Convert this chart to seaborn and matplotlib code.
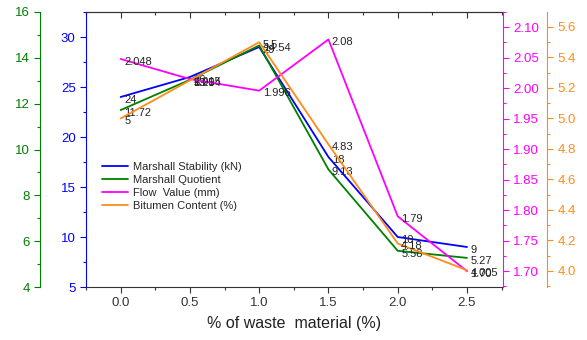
import matplotlib
matplotlib.use("Agg")
import matplotlib.pyplot as plt
import seaborn as sns
from matplotlib.ticker import MultipleLocator, FormatStrFormatter

# ---------- Data ----------
waste = [0.0, 0.5, 1.0, 1.5, 2.0, 2.5]
stability = [24, 26, 29, 18, 10, 9]
quotient = [11.72, 13.04, 14.54, 9.13, 5.58, 5.27]
flow = [2.048, 2.015, 1.996, 2.08, 1.79, 1.70]
bitumen = [5.0, 5.25, 5.5, 4.83, 4.18, 4.005]

stability_labels = ["24", "26", "29", "18", "10", "9"]
quotient_labels = ["11.72", "13.04", "14.54", "9.13", "5.58", "5.27"]
flow_labels = ["2.048", "2.015", "1.996", "2.08", "1.79", "1.70"]
bitumen_labels = ["5", "5.25", "5.5", "4.83", "4.18", "4.005"]

# ---------- Style ----------
sns.set_style("ticks")
plt.rcParams['font.family'] = ['Liberation Sans', 'DejaVu Sans']

c_blue = "#0000FF"
c_green = "#008000"
c_mag = "#FF00FF"
c_orange = "#FF8C1A"
tick_fs = 9.5

fig = plt.figure(figsize=(5.87, 3.4), dpi=100)
ax = fig.add_axes([86 / 587, 53 / 340, 417 / 587, 275 / 340])
ax_g = ax.twinx()
ax_m = ax.twinx()
ax_o = ax.twinx()

series = [
    (ax, stability, stability_labels, c_blue, "Marshall Stability (kN)"),
    (ax_g, quotient, quotient_labels, c_green, "Marshall Quotient"),
    (ax_m, flow, flow_labels, c_mag, "Flow  Value (mm)"),
    (ax_o, bitumen, bitumen_labels, c_orange, "Bitumen Content (%)"),
]

handles = []
for a, vals, labs, col, name in series:
    sns.lineplot(x=waste, y=vals, ax=a, color=col, linewidth=1.3, label=name, legend=False)
    handles.append(a.get_lines()[-1])
    for xv, yv, t in zip(waste, vals, labs):
        a.annotate(t, (xv, yv), xytext=(2.5, -2), textcoords="offset points",
                   ha="left", va="center", fontsize=8, color="#222222")

# ---------- Axes limits ----------
ax.set_xlim(-0.25, 2.76)
ax.set_ylim(5, 32.5)
ax_g.set_ylim(4, 16)
ax_m.set_ylim(1.674, 2.125)
ax_o.set_ylim(3.895, 5.698)

# x axis
ax.xaxis.set_major_locator(MultipleLocator(0.5))
ax.xaxis.set_minor_locator(MultipleLocator(0.25))
ax.xaxis.set_major_formatter(FormatStrFormatter("%.1f"))
ax.tick_params(axis="x", which="major", length=4, width=0.8, colors="#333333", labelsize=tick_fs,
               direction="out")
ax.tick_params(axis="x", which="minor", length=2.5, width=0.8, colors="#333333", direction="out")
ax.set_xlabel("% of waste  material (%)", fontsize=11.5, color="#222222", labelpad=5)

# top ticks pointing inward
top = ax.secondary_xaxis("top")
top.xaxis.set_major_locator(MultipleLocator(0.5))
top.xaxis.set_minor_locator(MultipleLocator(0.25))
top.tick_params(which="major", direction="in", length=4, width=0.8, colors="#333333", labeltop=False)
top.tick_params(which="minor", direction="in", length=2.5, width=0.8, colors="#333333")
top.spines["top"].set_color("#333333")
ax.tick_params(axis="x", which="both", top=False)

# blue left axis
ax.yaxis.set_major_locator(MultipleLocator(5))
ax.yaxis.set_minor_locator(MultipleLocator(2.5))
ax.tick_params(axis="y", which="major", colors=c_blue, labelsize=tick_fs, length=4, width=0.8)
ax.tick_params(axis="y", which="minor", colors=c_blue, length=2.5, width=0.8)
ax.spines["left"].set_color(c_blue)
ax.spines["right"].set_visible(False)
ax.spines["top"].set_color("#333333")
ax.spines["bottom"].set_color("#333333")

# green outer-left axis
ax_g.yaxis.set_label_position("left")
ax_g.yaxis.tick_left()
ax_g.spines["left"].set_position(("outward", 33))
ax_g.spines["left"].set_visible(True)
ax_g.spines["left"].set_color(c_green)
for s in ["right", "top", "bottom"]:
    ax_g.spines[s].set_visible(False)
ax_g.yaxis.set_major_locator(MultipleLocator(2))
ax_g.yaxis.set_minor_locator(MultipleLocator(1))
ax_g.tick_params(axis="y", which="major", colors=c_green, labelsize=tick_fs, length=4, width=0.8)
ax_g.tick_params(axis="y", which="minor", colors=c_green, length=2.5, width=0.8)

# magenta right axis
for s in ["left", "top", "bottom"]:
    ax_m.spines[s].set_visible(False)
ax_m.spines["right"].set_color(c_mag)
ax_m.yaxis.set_major_locator(MultipleLocator(0.05))
ax_m.yaxis.set_minor_locator(MultipleLocator(0.025))
ax_m.yaxis.set_major_formatter(FormatStrFormatter("%.2f"))
ax_m.tick_params(axis="y", which="major", colors=c_mag, labelsize=tick_fs, length=4, width=0.8)
ax_m.tick_params(axis="y", which="minor", colors=c_mag, length=2.5, width=0.8)

# orange outer-right axis
for s in ["left", "top", "bottom"]:
    ax_o.spines[s].set_visible(False)
ax_o.spines["right"].set_position(("outward", 32))
ax_o.spines["right"].set_color(c_orange)
ax_o.yaxis.set_major_locator(MultipleLocator(0.2))
ax_o.yaxis.set_minor_locator(MultipleLocator(0.1))
ax_o.yaxis.set_major_formatter(FormatStrFormatter("%.1f"))
ax_o.tick_params(axis="y", which="major", colors=c_orange, labelsize=tick_fs, length=4, width=0.8)
ax_o.tick_params(axis="y", which="minor", colors=c_orange, length=2.5, width=0.8)

for a in [ax, ax_g, ax_m, ax_o]:
    a.set_ylabel("")

# ---------- Legend ----------
ax_o.legend(handles=handles, labels=[s[4] for s in series], loc="upper left",
            bbox_to_anchor=(96 / 587, 1 - 156 / 340), bbox_transform=fig.transFigure,
            frameon=False, fontsize=8, handlelength=2.4, handletextpad=0.4,
            labelspacing=0.28, borderpad=0)

fig.savefig("out.png", dpi=100)
